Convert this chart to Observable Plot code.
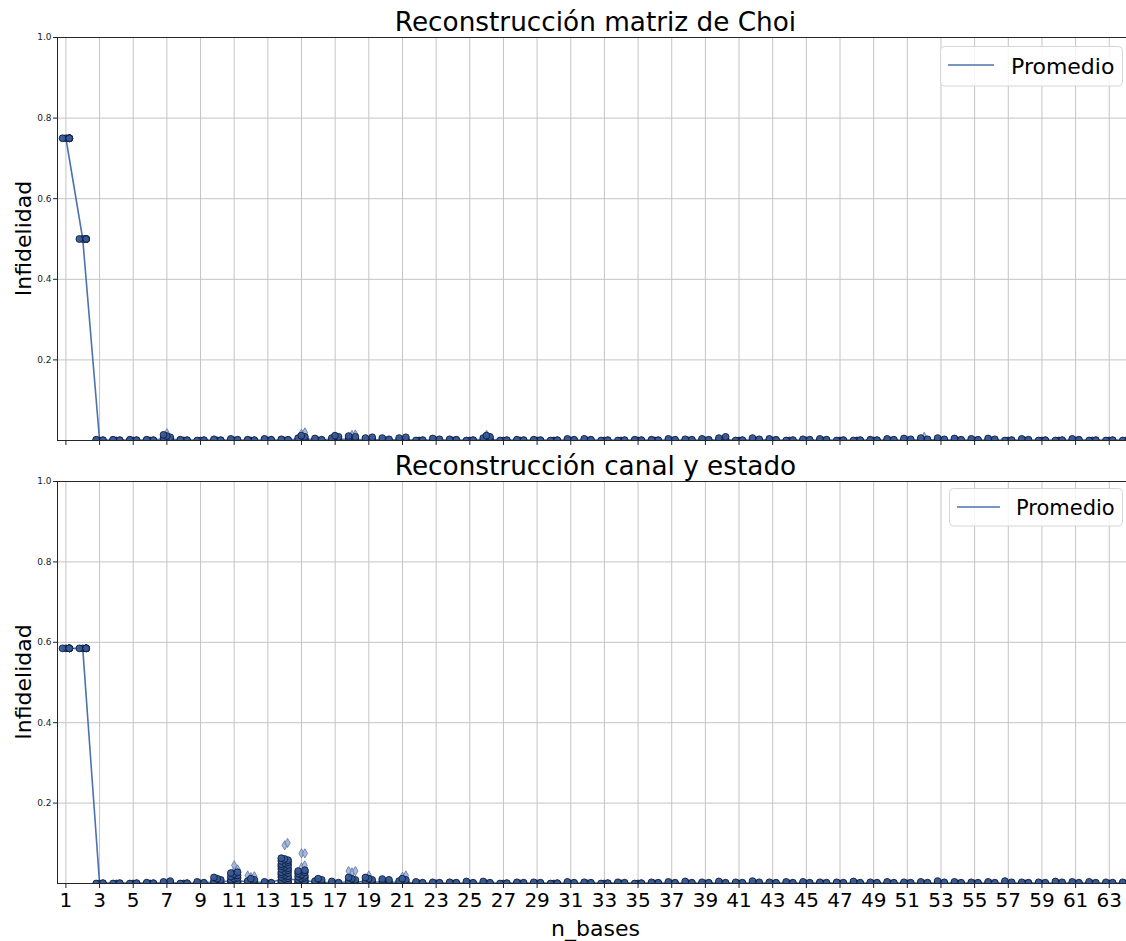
<!DOCTYPE html>
<html>
<head>
<meta charset="utf-8">
<script src="https://cdn.jsdelivr.net/npm/d3@7"></script>
<script src="https://cdn.jsdelivr.net/npm/@observablehq/plot@0.6"></script>
<style>
  html, body { margin: 0; padding: 0; background: #fff; overflow: hidden; }
  #wrap { position: relative; width: 1126px; height: 941px; overflow: hidden; background: #fff; font-family: "DejaVu Sans", sans-serif; }
  #overlay { position: absolute; left: 0; top: 0; pointer-events: none; }
</style>
</head>
<body>
<div id="wrap">
  <div id="p1" style="position:absolute;left:0;top:27px;"></div>
  <div id="p2" style="position:absolute;left:0;top:471px;"></div>
  <svg id="overlay" width="1126" height="941" font-family="DejaVu Sans, sans-serif">
    <text x="595.5" y="31" font-size="26.3" text-anchor="middle" fill="#000">Reconstrucción matriz de Choi</text>
    <text x="595.5" y="475" font-size="26.3" text-anchor="middle" fill="#000">Reconstrucción canal y estado</text>
    <text transform="translate(31,238.5) rotate(-90)" font-size="22" text-anchor="middle" fill="#000">Infidelidad</text>
    <text transform="translate(31,682) rotate(-90)" font-size="22" text-anchor="middle" fill="#000">Infidelidad</text>
    <text x="595.5" y="936" font-size="22" text-anchor="middle" fill="#000">n_bases</text>
    <rect x="940.5" y="46.5" width="182" height="39.5" rx="4" fill="#fff" fill-opacity="0.85" stroke="#d6d6d6"/>
    <line x1="948" x2="994" y1="65" y2="65" stroke="#4c72b0" stroke-width="1.5"/>
    <text x="1011" y="74" font-size="22" fill="#000">Promedio</text>
    <rect x="949.5" y="488.5" width="173" height="37.5" rx="4" fill="#fff" fill-opacity="0.85" stroke="#d6d6d6"/>
    <line x1="957" x2="1000" y1="507" y2="507" stroke="#4c72b0" stroke-width="1.5"/>
    <text x="1016" y="515" font-size="21" fill="#000">Promedio</text>
  </svg>
</div>
<script>
// ---------------- DATA ----------------
const categories = d3.range(1, 65);              // n_bases 1..64
const xTickLabels = d3.range(1, 64, 2);           // 1,3,...,63
const yTickValues = [0.2, 0.4, 0.6, 0.8, 1.0];

// Top panel: "Reconstrucción matriz de Choi" — swarm samples per n_bases
const choiSwarm = [
  [0.75,0.75,0.75,0.75,0.75,0.75,0.75], // 1
  [0.5,0.5,0.5,0.5,0.5,0.5,0.5],       // 2
  [0,0,0,0.001,0.002],                 // 3
  [0,0,0,0.001,0.002],                 // 4
  [0,0,0,0.001,0.002],                 // 5
  [0,0,0,0.001,0.002],                 // 6
  [0,0,0,0.003,0.006,0.008,0.011,0.014], // 7
  [0,0,0,0.001,0.002],                 // 8
  [0,0,0,0.001],                       // 9
  [0,0,0,0.001,0.003],                 // 10
  [0,0,0,0.002,0.004],                 // 11
  [0,0,0,0.001,0.002],                 // 12
  [0,0,0,0.002,0.004],                 // 13
  [0,0,0,0.002,0.003],                 // 14
  [0,0,0,0.003,0.006,0.009,0.012],     // 15
  [0,0,0,0.002,0.005],                 // 16
  [0,0,0,0.003,0.006,0.009,0.012],     // 17
  [0,0,0,0.003,0.006,0.009,0.011],     // 18
  [0,0,0,0.003,0.006,0.008],           // 19
  [0,0,0,0.003,0.006],                 // 20
  [0,0,0,0.003,0.006,0.008],           // 21
  [0,0,0,0.001],                       // 22
  [0,0,0,0.003,0.005],                 // 23
  [0,0,0,0.002,0.003],                 // 24
  [0,0,0,0.001],                       // 25
  [0,0,0,0.003,0.006,0.009,0.012],     // 26
  [0,0,0,0.001],                       // 27
  [0,0,0,0.001,0.002],                 // 28
  [0,0,0,0.001,0.002],                 // 29
  [0,0,0,0.001],                       // 30
  [0,0,0,0.002,0.004],                 // 31
  [0,0,0,0.002,0.004],                 // 32
  [0,0,0,0.001],                       // 33
  [0,0,0,0.001],                       // 34
  [0,0,0,0.001,0.002],                 // 35
  [0,0,0,0.001,0.002],                 // 36
  [0,0,0,0.002,0.004],                 // 37
  [0,0,0,0.002,0.003],                 // 38
  [0,0,0,0.002,0.004],                 // 39
  [0,0,0,0.003,0.006,0.009],           // 40
  [0,0,0,0.001],                       // 41
  [0,0,0,0.003,0.006],                 // 42
  [0,0,0,0.002,0.004],                 // 43
  [0,0,0,0.001],                       // 44
  [0,0,0,0.002,0.003],                 // 45
  [0,0,0,0.002,0.004],                 // 46
  [0,0,0,0.001],                       // 47
  [0,0,0,0.001],                       // 48
  [0,0,0,0.001,0.002],                 // 49
  [0,0,0,0.002,0.004],                 // 50
  [0,0,0,0.003,0.005],                 // 51
  [0,0,0,0.003,0.006],                 // 52
  [0,0,0,0.003,0.006],                 // 53
  [0,0,0,0.002,0.005],                 // 54
  [0,0,0,0.002,0.004],                 // 55
  [0,0,0,0.003,0.005],                 // 56
  [0,0,0,0.001],                       // 57
  [0,0,0,0.002,0.004],                 // 58
  [0,0,0,0.001],                       // 59
  [0,0,0,0.001],                       // 60
  [0,0,0,0.002,0.004],                 // 61
  [0,0,0,0.001],                       // 62
  [0,0,0,0.001],                       // 63
  [0,0,0,0.001]                        // 64
];
const choiOutliers = [
  [7, 0.018], [15, 0.02], [15, 0.017], [18, 0.015], [18, 0.014], [26, 0.014], [52, 0.009]
];
const choiMean = [
  0.75, 0.5, 0.001, 0.001, 0.001, 0.001, 0.004, 0.001, 0.001, 0.001,
  0.001, 0.001, 0.001, 0.001, 0.004, 0.002, 0.003, 0.003, 0.002, 0.002,
  0.002, 0.001, 0.001, 0.001, 0.001, 0.003, 0.001, 0.001, 0.001, 0.001,
  0.001, 0.001, 0.001, 0.001, 0.001, 0.001, 0.001, 0.001, 0.001, 0.002,
  0.001, 0.002, 0.001, 0.001, 0.001, 0.001, 0.001, 0.001, 0.001, 0.001,
  0.001, 0.002, 0.002, 0.001, 0.001, 0.001, 0.001, 0.001, 0.001, 0.001,
  0.001, 0.001, 0.001, 0.001
];

// Bottom panel: "Reconstrucción canal y estado"
const canalSwarm = [
  [0.585,0.585,0.585,0.585,0.585,0.585,0.585], // 1
  [0.585,0.585,0.585,0.585,0.585,0.585,0.585], // 2
  [0,0,0,0.001],                       // 3
  [0,0,0,0.001],                       // 4
  [0,0,0,0.001],                       // 5
  [0,0,0,0.001,0.002],                 // 6
  [0,0,0,0.002,0.004,0.006],           // 7
  [0,0,0,0.001],                       // 8
  [0,0,0,0.002,0.004],                 // 9
  [0,0,0,0.003,0.006,0.009,0.012,0.015], // 10
  [0,0,0,0.002,0.004,0.007,0.009,0.012,0.014,0.017,0.02,0.023,0.026,0.028], // 11
  [0,0,0,0.003,0.006,0.009,0.012],     // 12
  [0,0,0,0.002,0.004],                 // 13
  [0,0,0,0.002,0.004,0.006,0.008,0.011,0.013,0.016,0.018,0.021,0.023,0.026,0.028,0.031,0.033,0.036,0.038,0.041,0.043,0.046,0.048,0.051,0.053,0.056,0.058,0.061,0.063], // 14
  [0,0,0,0.002,0.004,0.007,0.009,0.012,0.014,0.017,0.019,0.022,0.025,0.028,0.031,0.033], // 15
  [0,0,0,0.003,0.006,0.009,0.012],     // 16
  [0,0,0,0.002,0.005],                 // 17
  [0,0,0,0.003,0.006,0.009,0.012,0.015], // 18
  [0,0,0,0.003,0.006,0.009,0.012,0.015], // 19
  [0,0,0,0.003,0.006,0.009,0.011],     // 20
  [0,0,0,0.003,0.006,0.009,0.012],     // 21
  [0,0,0,0.002,0.004],                 // 22
  [0,0,0,0.002,0.003],                 // 23
  [0,0,0,0.002,0.003],                 // 24
  [0,0,0,0.002,0.005],                 // 25
  [0,0,0,0.002,0.005],                 // 26
  [0,0,0,0.001],                       // 27
  [0,0,0,0.002,0.003],                 // 28
  [0,0,0,0.002,0.003],                 // 29
  [0,0,0,0.001],                       // 30
  [0,0,0,0.002,0.004],                 // 31
  [0,0,0,0.002,0.003],                 // 32
  [0,0,0,0.001],                       // 33
  [0,0,0,0.002,0.003],                 // 34
  [0,0,0,0.001],                       // 35
  [0,0,0,0.002,0.003],                 // 36
  [0,0,0,0.002,0.004],                 // 37
  [0,0,0,0.002,0.005],                 // 38
  [0,0,0,0.002,0.003],                 // 39
  [0,0,0,0.002,0.005],                 // 40
  [0,0,0,0.002,0.003],                 // 41
  [0,0,0,0.003,0.006],                 // 42
  [0,0,0,0.002,0.003],                 // 43
  [0,0,0,0.002,0.004],                 // 44
  [0,0,0,0.002,0.004],                 // 45
  [0,0,0,0.002,0.003],                 // 46
  [0,0,0,0.002,0.003],                 // 47
  [0,0,0,0.002,0.005],                 // 48
  [0,0,0,0.002,0.003],                 // 49
  [0,0,0,0.002,0.004],                 // 50
  [0,0,0,0.002,0.003],                 // 51
  [0,0,0,0.002,0.004],                 // 52
  [0,0,0,0.003,0.006],                 // 53
  [0,0,0,0.002,0.004],                 // 54
  [0,0,0,0.002,0.003],                 // 55
  [0,0,0,0.002,0.004],                 // 56
  [0,0,0,0.003,0.006],                 // 57
  [0,0,0,0.002,0.003],                 // 58
  [0,0,0,0.002,0.003],                 // 59
  [0,0,0,0.003,0.005],                 // 60
  [0,0,0,0.002,0.004],                 // 61
  [0,0,0,0.002,0.004],                 // 62
  [0,0,0,0.002,0.003],                 // 63
  [0,0,0,0.002,0.003]                  // 64
];
const canalOutliers = [
  [11, 0.045], [11, 0.035], [11, 0.031], [12, 0.02], [12, 0.018], [12, 0.016],
  [14, 0.101], [14, 0.095], [15, 0.075], [15, 0.075], [15, 0.045], [15, 0.04],
  [18, 0.031], [18, 0.031], [18, 0.028], [19, 0.02], [21, 0.02], [21, 0.017]
];
const canalMean = [
  0.585, 0.585, 0.001, 0.001, 0.001, 0.001, 0.002, 0.001, 0.001, 0.004,
  0.007, 0.004, 0.002, 0.012, 0.008, 0.003, 0.002, 0.004, 0.004, 0.003,
  0.003, 0.001, 0.001, 0.001, 0.001, 0.001, 0.001, 0.001, 0.001, 0.001,
  0.001, 0.001, 0.001, 0.001, 0.001, 0.001, 0.001, 0.001, 0.001, 0.001,
  0.001, 0.001, 0.001, 0.001, 0.001, 0.001, 0.001, 0.001, 0.001, 0.001,
  0.001, 0.001, 0.001, 0.001, 0.001, 0.001, 0.001, 0.001, 0.001, 0.001,
  0.001, 0.001, 0.001, 0.001
];

// ---------------- LAYOUT ----------------
const W = 1134, ML = 57, MR = 0;
const xDomain = [0.5, 64.5];
const pxPerCat = (W - ML - MR) / (xDomain[1] - xDomain[0]);
const R = 3.4;             // dot radius
const GUTTER = 0.2;        // max horizontal spread, in category units

// simple beeswarm: horizontal offset (in category units) from the y layout
function swarm(groups, plotH) {
  const out = [];
  groups.forEach(([cat, vals]) => {
    const placed = [];
    const dmin = 2 * R * 0.55;
    [...vals].sort((a, b) => a - b).forEach(v => {
      const y = v * plotH;
      const cands = [0];
      for (const p of placed) {
        const dy = y - p.y;
        if (Math.abs(dy) < dmin) {
          const dx = Math.sqrt(dmin * dmin - dy * dy);
          cands.push(p.x + dx, p.x - dx);
        }
      }
      cands.sort((a, b) => Math.abs(a) - Math.abs(b));
      let x = cands.find(c => placed.every(p => (p.x - c) ** 2 + (p.y - y) ** 2 >= dmin * dmin - 1e-6));
      if (x === undefined) x = cands[cands.length - 1];
      const g = GUTTER * pxPerCat;
      x = Math.max(-g, Math.min(g, x));
      placed.push({x, y});
      out.push({cat, value: v, off: x / pxPerCat});
    });
  });
  return out;
}
function groupOutliers(list) {
  const m = d3.group(list, d => d[0]);
  return Array.from(m, ([cat, arr]) => [cat, arr.map(d => d[1])]);
}

function panel(swarmVals, outliers, means, opts) {
  const plotH = opts.height - opts.marginTop - opts.marginBottom;
  const pts = swarm(swarmVals.map((vals, i) => [categories[i], vals]), plotH);
  const outPts = swarm(groupOutliers(outliers), plotH);
  const meanData = categories.map((c, i) => ({cat: c, value: means[i]}));
  const marks = [
    Plot.ruleY(yTickValues, {stroke: "#c4c4c4", strokeWidth: 1}),
    Plot.ruleX(xTickLabels, {stroke: "#c4c4c4", strokeWidth: 1}),
    Plot.line(meanData, {x: "cat", y: "value", stroke: "#4c72b0", strokeWidth: 1.6}),
    Plot.dot(outPts, {x: d => d.cat + d.off, y: "value", r: 2.8, symbol: "diamond", fill: "#9fb4da", fillOpacity: 0.9, stroke: "#4f6894", strokeWidth: 0.7, clip: true}),
    Plot.dot(pts, {x: d => d.cat + d.off, y: "value", r: R, fill: "#365a9a", fillOpacity: 0.95, stroke: "#0e1c36", strokeWidth: 0.9, clip: true}),
    Plot.frame({stroke: "#262626", strokeWidth: 1})
  ];
  if (opts.labels) {
    marks.push(Plot.text(xTickLabels, {x: d => d, text: d => String(d), frameAnchor: "bottom", dy: 23, fontSize: 20, fill: "#000"}));
  }
  return Plot.plot({
    width: W, height: opts.height,
    marginTop: opts.marginTop, marginBottom: opts.marginBottom, marginLeft: ML, marginRight: MR,
    style: {fontFamily: "DejaVu Sans, sans-serif", fontSize: "9px", color: "#222", background: "transparent", maxWidth: "none", overflow: "visible"},
    x: {type: "linear", domain: xDomain, ticks: xTickLabels, tickFormat: () => "", tickSize: 5, label: null},
    y: {domain: [0, 1], ticks: yTickValues, tickFormat: d => d.toFixed(1), tickSize: 4, tickPadding: 2, label: null},
    marks
  });
}

document.getElementById("p1").appendChild(panel(choiSwarm, choiOutliers, choiMean, {height: 423, marginTop: 10, marginBottom: 10, labels: false}));
document.getElementById("p2").appendChild(panel(canalSwarm, canalOutliers, canalMean, {height: 457, marginTop: 10, marginBottom: 45, labels: true}));
</script>
</body>
</html>
